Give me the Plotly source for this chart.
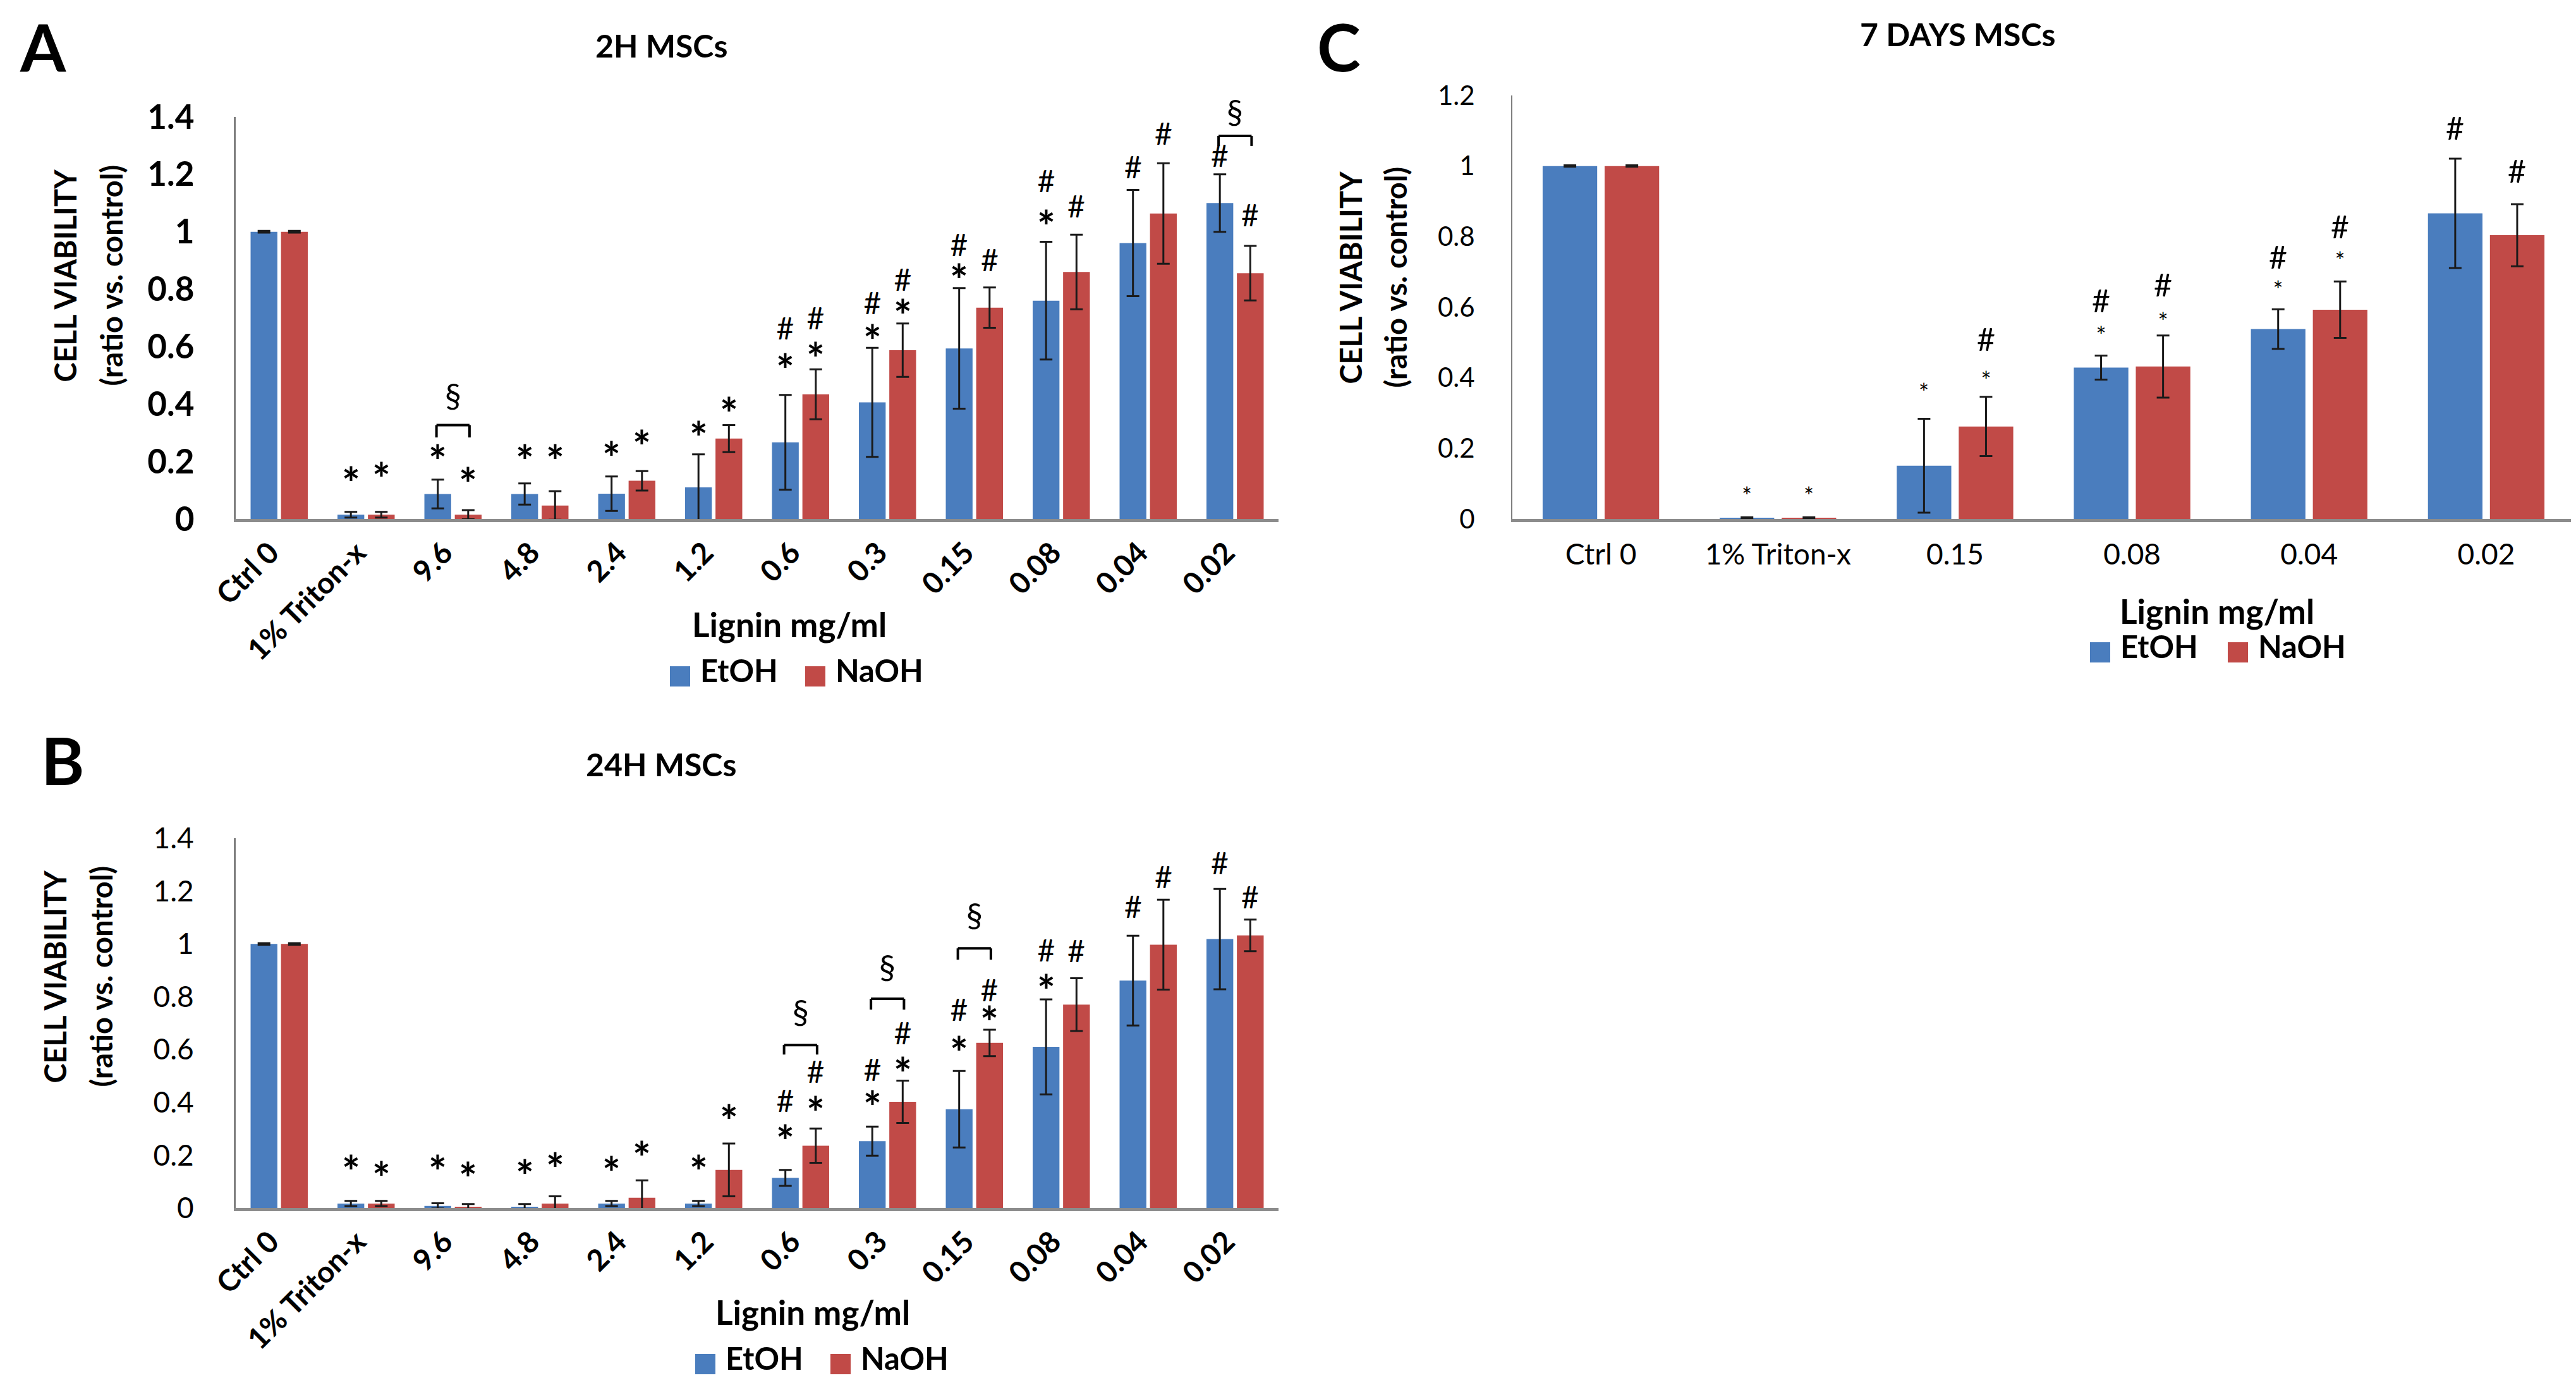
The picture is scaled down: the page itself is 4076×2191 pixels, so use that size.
import plotly.graph_objects as go

W, H = 4076, 2191
FONT = "Lato"
BLUE = "#4A7DBE"
RED = "#C14A47"
ERRC = "#1a1a1a"

CATS_AB = ["Ctrl 0", "1% Triton-x", "9.6", "4.8", "2.4", "1.2", "0.6", "0.3",
           "0.15", "0.08", "0.04", "0.02"]
CATS_C = ["Ctrl 0", "1% Triton-x", "0.15", "0.08", "0.04", "0.02"]

# Panel A: 2H MSCs
A_ETOH = [1.0, 0.015, 0.087, 0.087, 0.088, 0.11, 0.267, 0.406, 0.594, 0.76, 0.961, 1.10]
A_ETOH_ERR = [0.003, 0.01, 0.05, 0.037, 0.06, 0.115, 0.165, 0.19, 0.21, 0.205, 0.185, 0.10]
A_NAOH = [1.0, 0.015, 0.015, 0.047, 0.133, 0.28, 0.434, 0.588, 0.736, 0.86, 1.064, 0.856]
A_NAOH_ERR = [0.003, 0.01, 0.016, 0.05, 0.034, 0.047, 0.087, 0.093, 0.07, 0.13, 0.175, 0.095]

# Panel B: 24H MSCs
B_ETOH = [1.0, 0.017, 0.008, 0.005, 0.017, 0.017, 0.114, 0.253, 0.374, 0.61, 0.861, 1.018]
B_ETOH_ERR = [0.003, 0.01, 0.01, 0.01, 0.01, 0.01, 0.03, 0.055, 0.145, 0.18, 0.17, 0.19]
B_NAOH = [1.0, 0.017, 0.005, 0.017, 0.039, 0.144, 0.236, 0.402, 0.625, 0.77, 0.997, 1.032]
B_NAOH_ERR = [0.003, 0.01, 0.01, 0.027, 0.066, 0.10, 0.065, 0.08, 0.05, 0.10, 0.17, 0.06]

# Panel C: 7 DAYS MSCs
C_ETOH = [1.0, 0.003, 0.151, 0.429, 0.538, 0.866]
C_ETOH_ERR = [0.002, 0.002, 0.133, 0.034, 0.056, 0.155]
C_NAOH = [1.0, 0.003, 0.262, 0.432, 0.593, 0.804]
C_NAOH_ERR = [0.002, 0.002, 0.084, 0.088, 0.08, 0.088]

# significance marks: (category index, side -1 EtOH / +1 NaOH, symbol, y)
A_MARKS = [(1, -1, '*', 0.141), (1, 1, '*', 0.157),
           (2, -1, '*', 0.22), (2, 1, '*', 0.14),
           (3, -1, '*', 0.22), (3, 1, '*', 0.22),
           (4, -1, '*', 0.23), (4, 1, '*', 0.27),
           (5, -1, '*', 0.30), (5, 1, '*', 0.385),
           (6, -1, '*', 0.536), (6, -1, '#', 0.65), (6, 1, '*', 0.576), (6, 1, '#', 0.686),
           (7, -1, '*', 0.637), (7, -1, '#', 0.738), (7, 1, '*', 0.725), (7, 1, '#', 0.82),
           (8, -1, '*', 0.848), (8, -1, '#', 0.94), (8, 1, '#', 0.886),
           (9, -1, '*', 1.035), (9, -1, '#', 1.163), (9, 1, '#', 1.075),
           (10, -1, '#', 1.211), (10, 1, '#', 1.328),
           (11, -1, '#', 1.25), (11, 1, '#', 1.044)]
B_MARKS = [(1, -1, '*', 0.156), (1, 1, '*', 0.134),
           (2, -1, '*', 0.156), (2, 1, '*', 0.13),
           (3, -1, '*', 0.139), (3, 1, '*', 0.167),
           (4, -1, '*', 0.152), (4, 1, '*', 0.21),
           (5, -1, '*', 0.156), (5, 1, '*', 0.348),
           (6, -1, '*', 0.272), (6, -1, '#', 0.39), (6, 1, '*', 0.378), (6, 1, '#', 0.50),
           (7, -1, '*', 0.40), (7, -1, '#', 0.507), (7, 1, '*', 0.528), (7, 1, '#', 0.648),
           (8, -1, '*', 0.607), (8, -1, '#', 0.735), (8, 1, '*', 0.722), (8, 1, '#', 0.81),
           (9, -1, '*', 0.84), (9, -1, '#', 0.96), (9, 1, '#', 0.957),
           (10, -1, '#', 1.124), (10, 1, '#', 1.237),
           (11, -1, '#', 1.29), (11, 1, '#', 1.16)]
C_MARKS = [(1, -1, '*', 0.073), (1, 1, '*', 0.073),
           (2, -1, '*', 0.367), (2, 1, '*', 0.40), (2, 1, '#', 0.497),
           (3, -1, '*', 0.528), (3, -1, '#', 0.606), (3, 1, '*', 0.567), (3, 1, '#', 0.651),
           (4, -1, '*', 0.656), (4, -1, '#', 0.73), (4, 1, '*', 0.74), (4, 1, '#', 0.816),
           (5, -1, '#', 1.095), (5, 1, '#', 0.972)]

# brackets: (category index, leg bottom y, top y, section-sign y)
A_BRACKETS = [(2, 0.284, 0.327, 0.415), (11, 1.299, 1.334, 1.404)]
B_BRACKETS = [(6, 0.581, 0.617, 0.725), (7, 0.751, 0.792, 0.895), (8, 0.94, 0.983, 1.093)]

BAR_OFF = 0.175  # bar centre offset within a category (from bargap/bargroupgap)

# pixels per data unit for each panel
PX_PER_UNIT = {"y": 636 / 1.4, "y2": 585 / 1.4, "y3": 670 / 1.2}
Y_TOP = {"y": 1.4, "y2": 1.4, "y3": 1.2}

# approximate Lato glyph metrics (em)
ASC, DESC = 0.987, 0.213
BOX_MID = (ASC - DESC) / 2
HASH_C = 0.23   # '#' ink centre above baseline
STAR_C = 0.49   # '*' ink centre above baseline
SECT_C = 0.24   # section sign ink centre above baseline


def px(x, y):
    return x / W, 1 - y / H


fig = go.Figure()

panels = [
    ("x", "y", CATS_AB, A_ETOH, A_ETOH_ERR, A_NAOH, A_NAOH_ERR),
    ("x2", "y2", CATS_AB, B_ETOH, B_ETOH_ERR, B_NAOH, B_NAOH_ERR),
    ("x3", "y3", CATS_C, C_ETOH, C_ETOH_ERR, C_NAOH, C_NAOH_ERR),
]
for xa, ya, cats, e, ee, n, ne in panels:
    fig.add_trace(go.Bar(x=cats, y=e, name="EtOH", marker=dict(color=BLUE, line=dict(width=0)),
                         error_y=dict(type="data", array=ee, color=ERRC, thickness=3, width=10),
                         xaxis=xa, yaxis=ya, showlegend=False))
    fig.add_trace(go.Bar(x=cats, y=n, name="NaOH", marker=dict(color=RED, line=dict(width=0)),
                         error_y=dict(type="data", array=ne, color=ERRC, thickness=3, width=10),
                         xaxis=xa, yaxis=ya, showlegend=False))

ann = []
shapes = []


def text(x, y, s, size, bold=True, rot=False, **kw):
    xp, yp = px(x, y)
    d = dict(x=xp, y=yp, xref="paper", yref="paper", text=s, showarrow=False,
             font=dict(family=FONT, size=size, color="black", weight="bold" if bold else "normal"),
             xanchor="center", yanchor="middle")
    if rot:
        d.update(textangle=-90, xshift=-0.2 * size)
    else:
        d.update(yshift=0.2 * size)
    d.update(kw)
    ann.append(d)


# panel letters & titles
text(60, 0, "A", 104, yanchor="top", yshift=0)
text(91, 1203, "B", 104, yshift=10)
text(2110, 0, "C", 104, yanchor="top", yshift=0)
text(1038, 74, "2H MSCs", 50)
text(1038, 1211, "24H MSCs", 50)
text(3089, 56, "7 DAYS MSCs", 50)

# y titles (two lines each)
for x1, x2, yc in [(104, 177, 428), (88, 161, 1537), (2138, 2209, 431)]:
    text(x1, yc, "CELL VIABILITY", 47, rot=True)
    text(x2, yc, "(ratio vs. control)", 47, rot=True)

# x titles
text(1241, 990, "Lignin mg/ml", 53)
text(1278, 2078, "Lignin mg/ml", 53)
text(3500, 969, "Lignin mg/ml", 53)

# legends (square + label)
for bx, rx, yc in [(1052, 1266, 1062), (1092, 1306, 2150), (3299, 3517, 1024)]:
    for sx, col, lab in [(bx, BLUE, "EtOH"), (rx, RED, "NaOH")]:
        x0, y0 = px(sx, yc + 16)
        x1, y1 = px(sx + 32, yc - 16)
        shapes.append(dict(type="rect", xref="paper", yref="paper", x0=x0, y0=y0, x1=x1, y1=y1,
                           fillcolor=col, line=dict(width=0)))
        text(sx + 46, yc, lab, 49, xanchor="left")


def mark(xv, yv, xr, yr, txt, size, ys, weight="normal"):
    # annotations outside the axis range are hidden: clamp and shift in pixels
    top = Y_TOP[yr] - 0.01
    if yv > top:
        ys += (yv - top) * PX_PER_UNIT[yr]
        yv = top
    ann.append(dict(x=xv, y=yv, xref=xr, yref=yr, text=txt, showarrow=False,
                    font=dict(family=FONT, size=size, color="black", weight=weight),
                    xanchor="center", yanchor="middle", yshift=ys))


# significance marks
for marks, xr, yr, small in [(A_MARKS, "x", "y", False), (B_MARKS, "x2", "y2", False),
                             (C_MARKS, "x3", "y3", True)]:
    fs = 38 if small else 68          # asterisk size
    fh = 50 if small else 48          # hash size
    sw = "normal" if small else "bold"
    groups = {}
    for ci, side, sym, yv in marks:
        groups.setdefault((ci, side), {})[sym] = yv
    for (ci, side), g in groups.items():
        xv = ci + side * BAR_OFF
        if '*' in g and '#' in g:
            # stacked "#" over "*" as one two-line label
            D = (g['#'] - g['*']) * PX_PER_UNIT[yr]
            s = (D + STAR_C * fs - HASH_C * fh) / 1.3
            c = (-ASC * fh + 1.3 * s + DESC * fs) / 2
            txt = ('<span style="font-size:%dpx">#</span><br>'
                   '<span style="font-size:%dpx;font-weight:%s">*</span>' % (fh, fs, sw))
            mark(xv, g['#'], xr, yr, txt, s, -(c + HASH_C * fh))
        elif '*' in g:
            mark(xv, g['*'], xr, yr, '*', fs, -(STAR_C - BOX_MID) * fs, sw)
        else:
            mark(xv, g['#'], xr, yr, '#', fh, (BOX_MID - HASH_C) * fh)

for brs, xr, yr in [(A_BRACKETS, "x", "y"), (B_BRACKETS, "x2", "y2")]:
    for ci, yl, yt, ys in brs:
        xl, xrr = ci - 0.19, ci + 0.19
        ln = dict(color="black", width=4)
        shapes.append(dict(type="line", xref=xr, yref=yr, x0=xl, x1=xl, y0=yl, y1=yt, line=ln))
        shapes.append(dict(type="line", xref=xr, yref=yr, x0=xl, x1=xrr, y0=yt, y1=yt, line=ln))
        shapes.append(dict(type="line", xref=xr, yref=yr, x0=xrr, x1=xrr, y0=yt, y1=yl, line=ln))
        mark(ci, ys, xr, yr, "§", 52, (BOX_MID - SECT_C) * 52)


def xaxis(dom, anchor, n, angle, size, bold, standoff, shift):
    return dict(domain=dom, anchor=anchor, type="category", range=[-0.5, n - 0.5],
                automargin=False,
                showline=True, linecolor="#8c8c8c", linewidth=5, ticks="", showgrid=False,
                zeroline=False, tickangle=angle, ticklabelstandoff=standoff,
                ticklabelshift=shift,
                tickfont=dict(family=FONT, size=size, color="black",
                              weight="bold" if bold else "normal"))


def yaxis(dom, anchor, top, size, bold, lw, standoff):
    return dict(domain=dom, anchor=anchor, range=[0, top], dtick=0.2, showline=True,
                automargin=False,
                linecolor="#7f7f7f", linewidth=lw, ticks="", showgrid=False, zeroline=False,
                ticklabelstandoff=standoff,
                tickfont=dict(family=FONT, size=size, color="black",
                              weight="bold" if bold else "normal"))


xa_dom = [365 / W, 2015 / W]
xc_dom = [2385 / W, 4066 / W]
ya_dom = [1 - 813 / H, 1 - 177 / H]
yb_dom = [1 - 1903 / H, 1 - 1318 / H]
yc_dom = [1 - 813 / H, 1 - 143 / H]

fig.update_layout(
    width=W, height=H, margin=dict(l=0, r=0, t=0, b=0, autoexpand=False),
    paper_bgcolor="white", plot_bgcolor="white",
    barmode="group", bargap=0.3, bargroupgap=0.12,
    xaxis=xaxis(xa_dom, "y", 12, -45, 47, True, 2, -14),
    yaxis=yaxis(ya_dom, "x", 1.4, 53, True, 3, 52),
    xaxis2=xaxis(xa_dom, "y2", 12, -45, 47, True, 2, -14),
    yaxis2=yaxis(yb_dom, "x2", 1.4, 46, False, 3, 54),
    xaxis3=xaxis(xc_dom, "y3", 6, 0, 46, False, 12, 0),
    yaxis3=yaxis(yc_dom, "x3", 1.2, 42, False, 2, 49),
    annotations=ann, shapes=shapes,
)

fig.write_html("out.html")
